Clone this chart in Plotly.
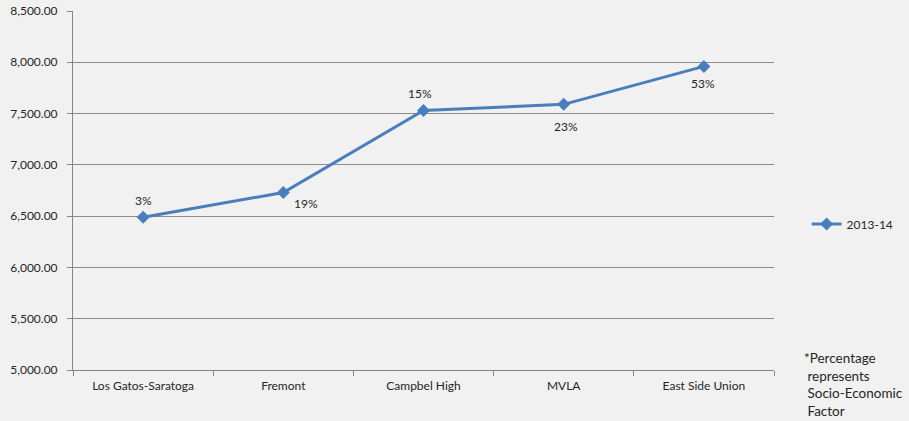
import plotly.graph_objects as go

categories = ["Los Gatos-Saratoga", "Fremont", "Campbel High", "MVLA", "East Side Union"]
values = [6490, 6730, 7530, 7590, 7960]
labels = ["3%", "19%", "15%", "23%", "53%"]
series_name = "2013-14"
y_ticks = [5000, 5500, 6000, 6500, 7000, 7500, 8000, 8500]

# label offsets in pixels (styling only)
label_dx = [0, 23, -4, 2, -1]
label_dy = [17, -11, 17, -22, -17]

font_family = "Lato, Open Sans, sans-serif"
blue = "#4a7ebb"
text_color = "#262626"

fig = go.Figure()
fig.add_trace(go.Scatter(
    x=categories, y=values, name=series_name,
    mode="lines+markers",
    line=dict(color=blue, width=3),
    marker=dict(symbol="diamond", size=10, color=blue),
))

annotations = [
    dict(x=c, y=v, text=t, xref="x", yref="y", showarrow=False,
         xshift=dx, yshift=dy,
         font=dict(family=font_family, size=12, color=text_color))
    for c, v, t, dx, dy in zip(categories, values, labels, label_dx, label_dy)
]
annotations.append(dict(
    x=1.04, y=0.062, xref="paper", yref="paper", xanchor="left", yanchor="top",
    align="left", showarrow=False,
    text="*Percentage<br> represents<br> Socio-Economic<br> Factor",
    font=dict(family=font_family, size=13.5, color=text_color),
))

fig.update_layout(
    width=909, height=421,
    margin=dict(l=73, r=134, t=11, b=51),
    paper_bgcolor="#f1f1f1",
    plot_bgcolor="rgba(0,0,0,0)",
    font=dict(family=font_family, size=12, color=text_color),
    showlegend=True,
    legend=dict(x=1.045, y=0.407, xanchor="left", yanchor="middle",
                bgcolor="rgba(0,0,0,0)", font=dict(size=12),
                itemwidth=30),
    xaxis=dict(
        type="category", showline=True, linecolor="#868686", linewidth=1,
        ticks="outside", tickson="boundaries", tickcolor="#868686", ticklen=5,
        showgrid=False, range=[-0.5, 4.5], tickfont=dict(size=12),
        automargin=False, ticklabelstandoff=5,
    ),
    yaxis=dict(
        range=[5000, 8500], tickvals=y_ticks, tickformat=",.2f",
        showline=True, linecolor="#868686", linewidth=1,
        ticks="outside", tickcolor="#868686", ticklen=5,
        showgrid=True, gridcolor="#8c8c8c", gridwidth=1,
        zeroline=False, tickfont=dict(size=12), automargin=False,
        ticklabelstandoff=7,
    ),
    annotations=annotations,
)

fig.write_html("out.html", config={"displayModeBar": False},
               post_script="document.body.style.margin='0';document.body.style.overflow='hidden';")
